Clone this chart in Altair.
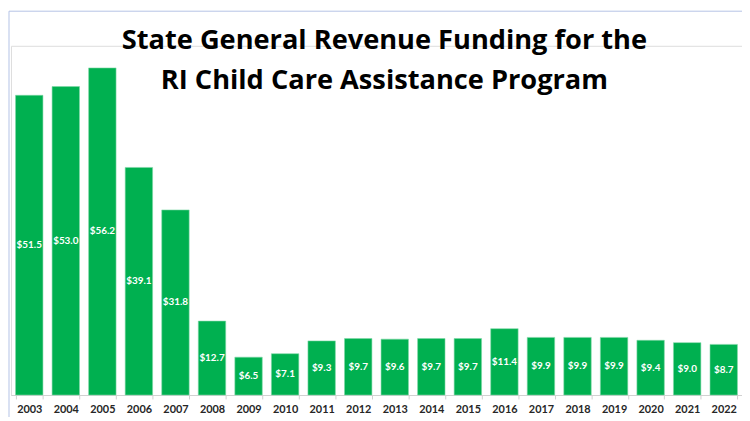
import altair as alt
import pandas as pd

years = ["2003", "2004", "2005", "2006", "2007", "2008", "2009", "2010", "2011", "2012",
         "2013", "2014", "2015", "2016", "2017", "2018", "2019", "2020", "2021", "2022"]
funding = [51.5, 53.0, 56.2, 39.1, 31.8, 12.7, 6.5, 7.1, 9.3, 9.7,
           9.6, 9.7, 9.7, 11.4, 9.9, 9.9, 9.9, 9.4, 9.0, 8.7]
title_lines = ["State General Revenue Funding for the", "RI Child Care Assistance Program"]

df = pd.DataFrame({"year": years, "funding": funding})

W, H = 739, 353

x_enc = alt.X("year:N", sort=years,
              scale=alt.Scale(paddingInner=0.25, paddingOuter=0.125),
              axis=alt.Axis(title=None, labelAngle=0, tickBand="extent", tickSize=4,
                            tickColor="#d0d0d0", domainColor="#d0d0d0",
                            labelFont="Lato", labelFontWeight="bold", labelFontSize=11,
                            labelColor="#262626", labelPadding=5))
y_scale = alt.Scale(domain=[0, 60], nice=False)

base = alt.Chart(df)

bars = base.mark_bar(color="#00B050", stroke="#7fd8a6", strokeWidth=0.6).encode(
    x=x_enc,
    y=alt.Y("funding:Q", scale=y_scale, axis=None),
)

labels = base.transform_calculate(
    mid="datum.funding / 2",
    lbl="'$' + format(datum.funding, '.1f')",
).mark_text(color="white", font="Lato", fontWeight="bold", fontSize=10, baseline="middle").encode(
    x=alt.X("year:N", sort=years),
    y=alt.Y("mid:Q", scale=y_scale),
    text="lbl:N",
)

border_data = alt.Data(values=[{"k": 1}])
left_border = alt.Chart(border_data).mark_rule(color="#b4c2e6", strokeWidth=1).encode(
    x=alt.value(-2), y=alt.value(-35), y2=alt.value(H + 30))
top_border = alt.Chart(border_data).mark_rule(color="#b4c2e6", strokeWidth=1).encode(
    x=alt.value(-2), x2=alt.value(W), y=alt.value(-35))

chart = alt.layer(bars, labels, left_border, top_border).properties(
    width=W, height=H,
    title=alt.TitleParams(title_lines, anchor="middle", frame="group", orient="top",
                          font="Open Sans", fontSize=27.5, fontWeight="bold", color="black",
                          lineHeight=41, baseline="alphabetic", offset=-44, dy=63, dx=8),
    autosize=alt.AutoSizeParams(type="none"),
    padding={"left": 3, "top": 36, "right": 0, "bottom": 20},
).configure_view(stroke=None).configure(background="white")

chart.save("out.html", embed_options={"renderer": "svg", "actions": False})
